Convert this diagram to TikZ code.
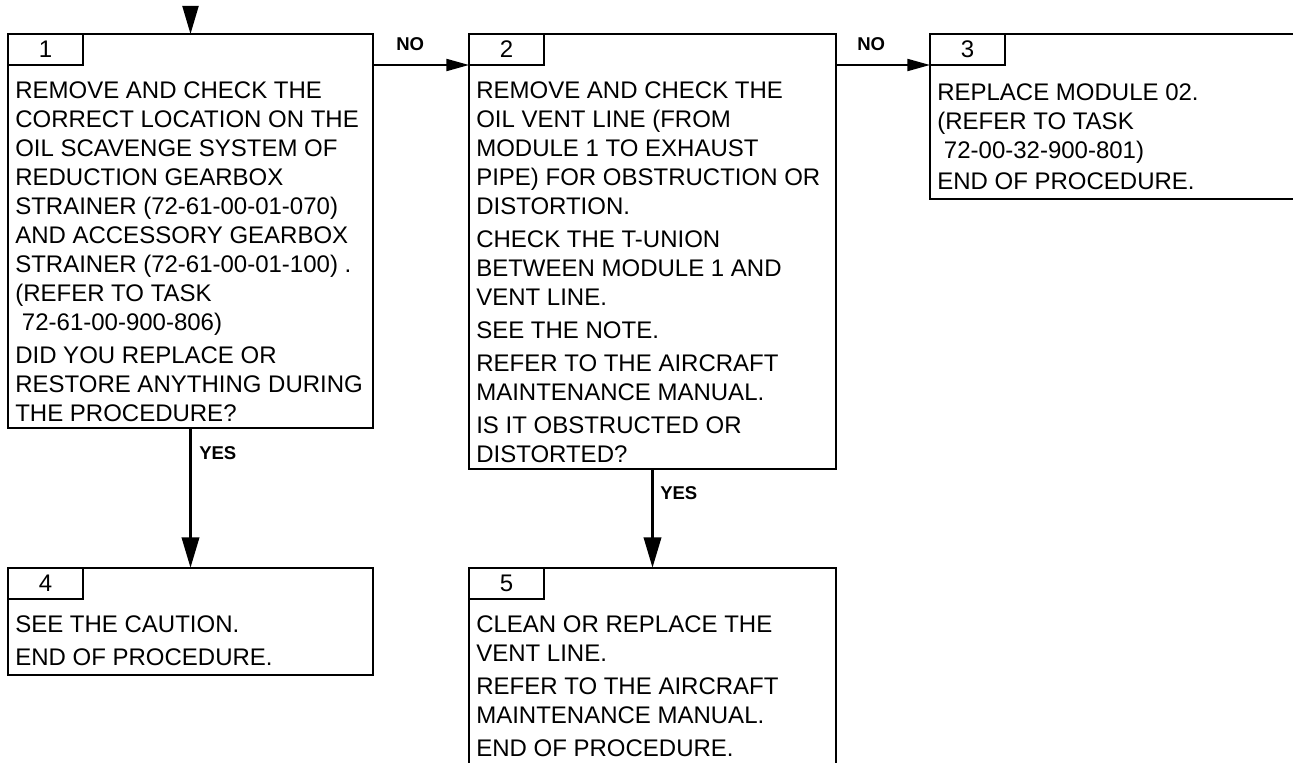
\documentclass[tikz,border=0pt]{standalone}
\usepackage{fontspec}
\setmainfont{Liberation Sans}
\usetikzlibrary{arrows.meta}
\begin{document}
\begin{tikzpicture}[x=0.75pt,y=-0.75pt,
  box/.style={draw,line width=1.6pt,rectangle,inner sep=0pt,outer sep=0pt,anchor=north west},
  tab/.style={draw,line width=1.6pt,rectangle,inner sep=0pt,outer sep=0pt,anchor=north west,
    minimum width=56.25pt,minimum height=23.25pt,font=\fontsize{18pt}{21.75pt}\selectfont},
  body/.style={anchor=north west,inner sep=0pt,align=left,font=\fontsize{18pt}{21.75pt}\selectfont},
  lbl/.style={inner sep=0pt,anchor=west,font=\fontsize{13.9pt}{16pt}\selectfont\bfseries},
  yesarrow/.style={line width=2.8pt,-{Triangle[length=23pt,width=12.75pt]}},
  noarrow/.style={line width=1.5pt,-{Triangle[length=17pt,width=9pt]}},
  toparrow/.style={line width=1.5pt,-{Triangle[length=21pt,width=12pt]}},
]
\useasboundingbox (0,0) rectangle (1293,763);
\clip (0,0) rectangle (1293,763);

% boxes
\node[box,minimum width=273.75pt,minimum height=295.5pt] (b1) at (8,34) {};
\node[box,minimum width=275.25pt,minimum height=326.25pt] (b2) at (469,34) {};
\node[box,minimum width=285pt,minimum height=123.75pt] (b3) at (930,34) {};
\node[box,minimum width=273.75pt,minimum height=80.25pt] (b4) at (8,568) {};
\node[box,minimum width=275.25pt,minimum height=166.5pt] (b5) at (469,568) {};

% number tabs
\node[tab] (t1) at (b1.north west) {1};
\node[tab] (t2) at (b2.north west) {2};
\node[tab] (t3) at (b3.north west) {3};
\node[tab] (t4) at (b4.north west) {4};
\node[tab] (t5) at (b5.north west) {5};

% texts
\node[body] (x1) at ([shift={(7,16)}]b1.west |- t1.south) {REMOVE AND CHECK THE\\
CORRECT LOCATION ON THE\\
OIL SCAVENGE SYSTEM OF\\
REDUCTION GEARBOX\\
STRAINER (72-61-00-01-070)\\
AND ACCESSORY GEARBOX\\
STRAINER (72-61-00-01-100) .\\
(REFER TO TASK\\
\hspace*{0.28em}72-61-00-900-806)\\[3pt]
DID YOU REPLACE OR\\
RESTORE ANYTHING DURING\\
THE PROCEDURE?};

\node[body] (x2) at ([shift={(7,16)}]b2.west |- t2.south) {REMOVE AND CHECK THE\\
OIL VENT LINE (FROM\\
MODULE 1 TO EXHAUST\\
PIPE) FOR OBSTRUCTION OR\\
DISTORTION.\\[3pt]
CHECK THE T-UNION\\
BETWEEN MODULE 1 AND\\
VENT LINE.\\[3pt]
SEE THE NOTE.\\[3pt]
REFER TO THE AIRCRAFT\\
MAINTENANCE MANUAL.\\[3pt]
IS IT OBSTRUCTED OR\\
DISTORTED?};

\node[body] (x3) at ([shift={(7,18)}]b3.west |- t3.south) {REPLACE MODULE 02.\\
(REFER TO TASK\\
\hspace*{0.28em}72-00-32-900-801)\\[1.5pt]
END OF PROCEDURE.};

\node[body] (x4) at ([shift={(7,16)}]b4.west |- t4.south) {SEE THE CAUTION.\\[3pt]
END OF PROCEDURE.};

\node[body] (x5) at ([shift={(7,16)}]b5.west |- t5.south) {CLEAN OR REPLACE THE\\
VENT LINE.\\[3pt]
REFER TO THE AIRCRAFT\\
MAINTENANCE MANUAL.\\[3pt]
END OF PROCEDURE.};

% connectors
\coordinate (in) at ([yshift=21pt]b1.north);
\draw[toparrow] (in) -- (b1.north);
\draw[noarrow] (b1.east |- t2.south) -- (t2.south west);
\draw[noarrow] (b2.east |- t3.south) -- (t3.south west);
\draw[yesarrow] (b1.south) -- (b4.north);
\draw[yesarrow] (b2.south) -- (b5.north);

% labels
\node[lbl] (no1) at (396,44) {NO};
\node[lbl] (no2) at (857,44) {NO};
\node[lbl] (yes1) at (199,453) {YES};
\node[lbl] (yes2) at (660,493) {YES};
\end{tikzpicture}
\end{document}
